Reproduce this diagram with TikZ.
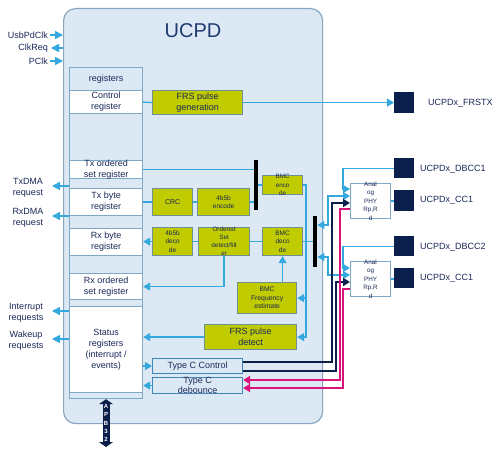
\documentclass[tikz,border=0pt]{standalone}
\usepackage{fontspec}
\setmainfont{Liberation Sans}
\usetikzlibrary{arrows.meta}
\definecolor{boxbg}{HTML}{DCE9F5}
\definecolor{boxbd}{HTML}{8AA5BD}
\definecolor{regbd}{HTML}{7FA7C6}
\definecolor{grn}{HTML}{C0CB00}
\definecolor{grnbd}{HTML}{6F8F92}
\definecolor{lb}{HTML}{33A9DF}
\definecolor{navy}{HTML}{0B1F4D}
\definecolor{txt}{HTML}{1A2858}
\definecolor{pinkc}{HTML}{D9137A}
\definecolor{tcbd}{HTML}{3F86BA}
\definecolor{titlec}{HTML}{1F3A6E}
\newcommand{\fsz}[2]{\fontsize{#1}{#2}\selectfont}
\begin{document}
\begin{tikzpicture}[x=1pt,y=-1pt,
  mainbox/.style={draw=boxbd, fill=boxbg, line width=1.2pt, rounded corners=12pt, anchor=north west, inner sep=0pt},
  regcol/.style={draw=regbd, fill=boxbg, line width=1.2pt, anchor=north west, inner sep=0pt, minimum width=73pt},
  regcell/.style={draw=regbd, fill=white, line width=1.2pt, anchor=north west, inner sep=0pt, minimum width=73pt, align=center, text=txt, font=\fsz{9}{11}},
  gbox/.style={draw=grnbd, fill=grn, line width=1.2pt, anchor=north west, inner sep=0pt},
  tbox/.style={draw=tcbd, fill=boxbg, line width=1.1pt, anchor=north west, inner sep=0pt, minimum width=90pt},
  phybox/.style={draw=regbd, fill=white, line width=1.1pt, anchor=north west, inner sep=0pt, minimum width=40pt, minimum height=35pt},
  sq/.style={fill=navy, anchor=north west, inner sep=0pt, minimum width=20pt},
  barbox/.style={fill=black, anchor=north west, inner sep=0pt, minimum width=4pt},
  tx/.style={text=txt, align=center, inner sep=0pt},
  lab/.style={text=txt, inner sep=0pt, font=\fsz{9}{11}},
  lbline/.style={draw=lb, line width=1.3pt},
  lbA/.style={draw=lb, line width=1.3pt, -{Triangle[length=7pt,width=8pt]}},
  lbL/.style={draw=lb, line width=1.3pt, {Triangle[length=7pt,width=8pt]}-},
  lbB/.style={draw=lb, line width=1.3pt, {Triangle[length=7pt,width=8pt]}-{Triangle[length=7pt,width=8pt]}},
  extA/.style={draw=lb, line width=1.5pt, -{Triangle[length=8pt,width=8pt]}},
  extL/.style={draw=lb, line width=1.5pt, {Triangle[length=8pt,width=8pt]}-},
  nvA/.style={draw=navy, line width=2pt, -{Triangle[length=7pt,width=8pt]}},
  pkA/.style={draw=pinkc, line width=2pt, -{Triangle[length=7pt,width=8pt]}}
]
\useasboundingbox (0,0) rectangle (498,452);
\fill[white] (0,0) rectangle (498,452);

% main block
\node[mainbox, minimum width=259pt, minimum height=415pt] (main) at (63,8) {};
\node[text=titlec, font=\fsz{20}{24}, inner sep=0pt] (ucpd) at (193,31) {UCPD};

% register column
\node[regcol, minimum height=331pt] (regcol) at (69,67) {};
\node[regcell, fill=boxbg, minimum height=23pt] (hdr) at (69,67) {registers};
\node[regcell, minimum height=23pt] (ctrl) at (69,90) {};
\node[tx, font=\fsz{9}{11}] at (ctrl) {Control\\register};
\node[regcell, minimum height=18pt] (txos) at (69,160) {};
\node[tx, font=\fsz{9}{11}] at (txos) {Tx ordered\\set register};
\node[regcell, minimum height=27pt] (txb) at (69,188) {};
\node[tx, font=\fsz{9}{11}] at (txb) {Tx byte\\register};
\node[regcell, minimum height=27pt] (rxb) at (69,228) {};
\node[tx, font=\fsz{9}{11}] at (rxb) {Rx byte\\register};
\node[regcell, minimum height=26pt] (rxos) at (69,273) {};
\node[tx, font=\fsz{9}{11}] at (rxos) {Rx ordered\\set register};
\node[regcell, minimum height=86pt] (status) at (69,306) {};
\node[tx, font=\fsz{9}{11}] at (status) {Status\\registers\\(interrupt /\\events)};

% green blocks
\node[gbox, minimum width=90pt, minimum height=24pt] (frsgen) at (152,90) {};
\node[tx, font=\fsz{9}{11}] at (frsgen) {FRS pulse\\generation};
\node[gbox, minimum width=40pt, minimum height=27pt] (crc) at (152,188) {};
\node[tx, font=\fsz{7}{8}] at (crc) {CRC};
\node[gbox, minimum width=52pt, minimum height=27pt] (enc4b) at (197,188) {};
\node[tx, font=\fsz{6.5}{8}] at (enc4b) {4b5b\\encode};
\node[gbox, minimum width=40pt, minimum height=19pt] (bmcenc) at (262,175) {};
\node[tx, font=\fsz{6.3}{8.3}] at (bmcenc) {BMC\\enco\\de};
\node[gbox, minimum width=40pt, minimum height=28pt] (dec4b) at (152,227) {};
\node[tx, font=\fsz{6.5}{8.5}] at (dec4b) {4b5b\\deco\\de};
\node[gbox, minimum width=51pt, minimum height=28pt] (osdet) at (198,227) {};
\node[tx, font=\fsz{6.3}{8}] at (osdet) {Ordered\\Set\\detect/filt\\er};
\node[gbox, minimum width=40pt, minimum height=28pt] (bmcdec) at (262,227) {};
\node[tx, font=\fsz{6.5}{8.5}] at (bmcdec) {BMC\\deco\\de};
\node[gbox, minimum width=59pt, minimum height=31pt] (bmcfreq) at (237,282) {};
\node[tx, font=\fsz{6.8}{8.5}] at (bmcfreq) {BMC\\Frequency\\estimate};
\node[gbox, minimum width=92pt, minimum height=25pt] (frsdet) at (204,324) {};
\node[tx, font=\fsz{9}{11}] at (frsdet) {FRS pulse\\detect};
\node[tbox, minimum height=15pt] (tcc) at (152,358) {};
\node[tx, font=\fsz{9}{11}] at (tcc) {Type C Control};
\node[tbox, minimum height=16pt] (tcd) at (152,377) {};
\node[tx, font=\fsz{9}{10}] at (tcd) {Type C\\debounce};

% mux bars
\node[barbox, minimum height=50pt] (bar1) at (254,160) {};
\node[barbox, minimum height=51pt] (bar2) at (313,216) {};

% PHY blocks
\node[phybox] (phy1) at (350,183) {};
\node[tx, font=\fsz{6.3}{8.4}] at (phy1) {Anal\\og\\PHY\\Rp,R\\d};
\node[phybox] (phy2) at (350,261) {};
\node[tx, font=\fsz{6.3}{8.4}] at (phy2) {Anal\\og\\PHY\\Rp,R\\d};

% pins
\node[sq, minimum height=21pt] (frstx) at (394,92) {};
\node[lab, anchor=west] at (428,103) {UCPDx\_FRSTX};
\node[sq, minimum height=20pt] (dbcc1) at (394,158) {};
\node[lab, anchor=west] at (420,169) {UCPDx\_DBCC1};
\node[sq, minimum height=21pt] (cc1a) at (394,190) {};
\node[lab, anchor=west] at (420,200.5) {UCPDx\_CC1};
\node[sq, minimum height=20pt] (dbcc2) at (394,236) {};
\node[lab, anchor=west] at (420,247) {UCPDx\_DBCC2};
\node[sq, minimum height=20pt] (cc1b) at (394,268) {};
\node[lab, anchor=west] at (420,278.5) {UCPDx\_CC1};

% left labels
\node[lab, anchor=east] (usb) at (48,35) {UsbPdClk};
\node[lab, anchor=east] (clkreq) at (48,48) {ClkReq};
\node[lab, anchor=east] (pclk) at (48,61) {PClk};
\node[lab, align=center] (txdma) at (28,188) {TxDMA\\request};
\node[lab, align=center] (rxdma) at (28,218) {RxDMA\\request};
\node[lab, align=center] (intr) at (26,312.5) {Interrupt\\requests};
\node[lab, align=center] (wake) at (26,340.5) {Wakeup\\requests};

\coordinate (usbA) at (50,35);
\coordinate (clkA) at (51,48);
\coordinate (pclkA) at (50,61);
\coordinate (txdA) at (52,186);
\coordinate (rxdA) at (52,216);
\coordinate (intA) at (52,311);
\coordinate (wakA) at (52,339);
\draw[extA] (usbA) -- (usbA -| main.west);
\draw[extL] (clkA) -- (clkA -| main.west);
\draw[extA] (pclkA) -- (pclkA -| main.west);
\draw[extL] (txdA) -- (txdA -| regcol.west);
\draw[extL] (rxdA) -- (rxdA -| regcol.west);
\draw[extL] (intA) -- (intA -| regcol.west);
\draw[extL] (wakA) -- (wakA -| regcol.west);

% internal connectors
\draw[lbline] (ctrl.east) -- (frsgen.west);
\draw[lbA] (frsgen.east) -- (frsgen.east -| frstx.west);
\draw[lbline] (txos.east) -- (txos.east -| bar1.west);
\draw[lbline] (txb.east) -- (crc.west);
\draw[lbline] (crc.east) -- (enc4b.west);
\draw[lbline] (enc4b.east) -- (enc4b.east -| bar1.west);
\draw[lbline] (bmcenc.west -| bar1.east) -- (bmcenc.west);
\coordinate (vx) at (306,0);
\draw[lbA] (bmcenc.east) -- (bmcenc.east -| vx) -- (frsdet.east -| vx) -- (frsdet.east);
\draw[lbA] (bmcfreq.east -| vx) -- (bmcfreq.east);
\draw[lbline] (bmcdec.east) -- (bmcdec.east -| bar2.west);
\fill[lb] (bmcdec.east -| vx) circle (1.6);
\draw[lbline] (bmcdec.west) -- (osdet.east);
\draw[lbline] (osdet.west) -- (dec4b.east);
\draw[lbA] (dec4b.west) -- (dec4b.west -| rxb.east);
\draw[lbA] (osdet.south) |- (rxos.east);
\draw[lbA] (bmcdec.south |- bmcfreq.north) -- (bmcdec.south);
\draw[lbA] (frsdet.west) -- (frsdet.west -| status.east);
\draw[lbA] (tcc.west -| status.east) -- (tcc.west);
\draw[lbA] (tcd.west) -- (tcd.west -| status.east);

% right side connectors
\coordinate (d1) at (343,189);
\draw[lbA] (dbcc1.west) -| (d1) -- (d1 -| phy1.west);
\coordinate (d2) at (343,268);
\draw[lbA] (dbcc2.west) -| (d2) -- (d2 -| phy2.west);
\coordinate (j1) at (328,225);
\coordinate (j2) at (328,196);
\draw[lbB] (j1 -| bar2.east) -- (j1) -- (j2) -- (j2 -| phy1.west);
\coordinate (k1) at (328,257);
\coordinate (k2) at (328,275);
\draw[lbB] (k1 -| bar2.east) -- (k1) -- (k2) -- (k2 -| phy2.west);
\draw[draw=lb, line width=2pt] (phy1.east) -- (phy1.east -| cc1a.west);
\draw[draw=lb, line width=2pt] (phy2.east) -- (phy2.east -| cc1b.west);

% type C control (navy)
\coordinate (n1) at (332,362);
\coordinate (n1t) at (332,203);
\draw[nvA] (n1 -| tcc.east) -- (n1) -- (n1t) -- (n1t -| phy1.west);
\coordinate (n2) at (336,371);
\coordinate (n2t) at (336,282);
\draw[nvA] (n2 -| tcc.east) -- (n2) -- (n2t) -- (n2t -| phy2.west);

% type C debounce (pink)
\coordinate (p1) at (340,209);
\coordinate (p1b) at (340,380);
\draw[pkA] (p1 -| phy1.west) -- (p1) -- (p1b) -- (p1b -| tcd.east);
\coordinate (p2) at (343,289);
\coordinate (p2b) at (343,388);
\draw[pkA] (p2 -| phy2.west) -- (p2) -- (p2b) -- (p2b -| tcd.east);

% APB bus
\coordinate (apbbot) at (106,447);
\draw[draw=navy, line width=7pt, {Triangle[length=5pt,width=14pt]}-{Triangle[length=5pt,width=14pt]}] (regcol.south -| apbbot) -- (apbbot);
\node[text=white, font=\bfseries\fsz{6}{8.3}, align=center, inner sep=0pt] (apb) at (106,423) {A\\P\\B\\3\\2};
\end{tikzpicture}
\end{document}
